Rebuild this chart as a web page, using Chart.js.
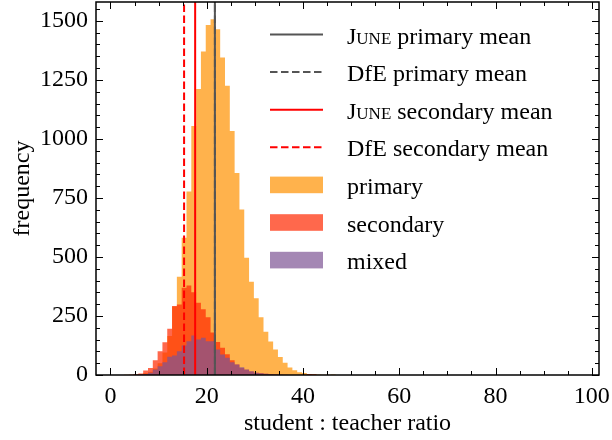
<!DOCTYPE html>
<html>
<head>
<meta charset="utf-8">
<script src="https://cdn.jsdelivr.net/npm/chart.js@4/dist/chart.umd.min.js"></script>
<style>
html,body{margin:0;padding:0;background:#ffffff;}
canvas{display:block;}
</style>
</head>
<body>
<canvas id="c" width="612" height="440"></canvas>
<script>
// ---- data ----
// left edges of the 1-unit bins, plus the final right edge
const binEdges = [2.8, 3.8, 4.8, 5.8, 6.8, 7.8, 8.8, 9.8, 10.8, 11.8, 12.8, 13.8, 14.8, 15.8, 16.8,
  17.8, 18.8, 19.8, 20.8, 21.8, 22.8, 23.8, 24.8, 25.8, 26.8, 27.8, 28.8, 29.8, 30.8, 31.8,
  32.8, 33.8, 34.8, 35.8, 36.8, 37.8, 38.8, 39.8, 40.8, 41.8, 42.8, 43.8, 44.8, 45.8, 46.8, 47.8];

const primaryCounts = [1, 1, 2, 4, 7, 14, 28, 50, 95, 165,
  290, 416, 581, 777, 1055, 1211, 1370, 1483, 1507, 1465,
  1345, 1225, 1034, 856, 701, 497, 395, 325, 245, 183,
  142, 108, 76, 52, 32, 20, 12, 8, 4, 3,
  2, 1, 1, 2, 0];

const secondaryCounts = [0, 1, 3, 6, 19, 30, 63, 101, 139, 196,
  292, 299, 370, 379, 351, 306, 278, 245, 180, 140,
  115, 88, 62, 45, 30, 22, 15, 10, 7, 5,
  3, 2, 1, 1, 0, 0, 0, 1, 4, 3,
  0, 0, 0, 0, 0];

const mixedCounts = [0, 0, 1, 2, 4, 10, 23, 37, 54, 77,
  83, 101, 125, 143, 167, 150, 158, 143, 143, 108,
  87, 73, 54, 44, 33, 23, 16, 10, 7, 5,
  3, 2, 1, 0, 0, 0, 0, 0, 0, 0,
  0, 0, 0, 0, 0];

const meanLabels = ['June primary mean', 'DfE primary mean', 'June secondary mean', 'DfE secondary mean'];
const meanValues = [21.7, 21.7, 17.6, 15.3];
const histLabels = ['primary', 'secondary', 'mixed'];

const xTicks = [0, 20, 40, 60, 80, 100];
const yTicks = [0, 250, 500, 750, 1000, 1250, 1500];
const xMinorStep = 5;
const yMinorStep = 50;

// ---- presentation ----
const X_MIN = -3, X_MAX = 101.5, Y_MIN = 0, Y_MAX = 1580;
const FONT = '"Liberation Serif", "Times New Roman", serif';

const histColors = ['rgba(255,145,0,0.7)', 'rgba(255,40,0,0.7)', 'rgba(126,84,148,0.7)'];
const meanColors = ['#555555', '#555555', '#ff0000', '#ff0000'];
const meanDash = [[], [7.5, 3.5], [], [7.5, 3.5]];

function histPoints(counts) {
  const pts = counts.map((c, i) => ({ x: binEdges[i], y: c }));
  pts.push({ x: binEdges[counts.length], y: 0 });
  return pts;
}

const histDatasets = [primaryCounts, secondaryCounts, mixedCounts].map((counts, i) => ({
  label: histLabels[i],
  data: histPoints(counts),
  stepped: 'before',
  fill: 'origin',
  backgroundColor: histColors[i],
  borderColor: 'rgba(0,0,0,0)',
  borderWidth: 0,
  pointRadius: 0,
  tension: 0,
  order: 6 - i
}));

const meanDatasets = meanValues.map((v, i) => ({
  label: meanLabels[i],
  data: [{ x: v, y: Y_MIN }, { x: v, y: Y_MAX }],
  borderColor: meanColors[i],
  backgroundColor: meanColors[i],
  borderDash: meanDash[i],
  borderWidth: 2,
  pointRadius: 0,
  fill: false,
  order: i
}));

const datasets = histDatasets.concat(meanDatasets);

const frameTicks = {
  id: 'frameTicks',
  afterDatasetsDraw(chart) {
    const { ctx, chartArea: a, scales } = chart;
    const x = scales.x, y = scales.y;
    ctx.save();
    ctx.strokeStyle = '#000';
    ctx.lineWidth = 1;
    ctx.beginPath();
    for (let v = xTicks[0]; v <= xTicks[xTicks.length - 1]; v += xMinorStep) {
      const px = Math.round(x.getPixelForValue(v)) + 0.5;
      const len = xTicks.includes(v) ? 7 : 4;
      ctx.moveTo(px, a.bottom); ctx.lineTo(px, a.bottom - len);
      ctx.moveTo(px, a.top); ctx.lineTo(px, a.top + len);
    }
    for (let v = yTicks[0]; v <= Y_MAX; v += yMinorStep) {
      const py = Math.round(y.getPixelForValue(v)) + 0.5;
      const len = yTicks.includes(v) ? 7 : 4;
      ctx.moveTo(a.left, py); ctx.lineTo(a.left + len, py);
      ctx.moveTo(a.right, py); ctx.lineTo(a.right - len, py);
    }
    ctx.stroke();
    ctx.lineWidth = 1.5;
    ctx.strokeRect(a.left, a.top, a.right - a.left, a.bottom - a.top);
    ctx.restore();
  }
};

const legendOrder = [3, 4, 5, 6, 0, 1, 2];
const customLegend = {
  id: 'customLegend',
  afterDraw(chart) {
    const ctx = chart.ctx;
    const ds = chart.data.datasets;
    ctx.save();
    const x0 = 270, x1 = 323, tx = 347, yStart = 34.5, dy = 37.6;
    legendOrder.forEach((di, row) => {
      const d = ds[di];
      const yc = yStart + row * dy;
      if (d.fill === 'origin') {
        ctx.fillStyle = d.backgroundColor;
        ctx.fillRect(x0, yc - 8.3, x1 - x0, 16.6);
      } else {
        ctx.strokeStyle = d.borderColor;
        ctx.lineWidth = 2;
        ctx.setLineDash(d.borderDash || []);
        ctx.beginPath();
        ctx.moveTo(x0, yc); ctx.lineTo(x1, yc);
        ctx.stroke();
        ctx.setLineDash([]);
      }
      ctx.fillStyle = '#000';
      ctx.textBaseline = 'alphabetic';
      ctx.textAlign = 'left';
      let label = d.label;
      let cx = tx;
      const base = yc + 9;
      if (label.startsWith('June')) {
        ctx.font = 'small-caps 24px ' + FONT;
        ctx.fillText('June', cx, base);
        cx += ctx.measureText('June').width;
        label = label.slice(4);
      }
      ctx.font = '24px ' + FONT;
      ctx.fillText(label, cx, base);
    });
    ctx.restore();
  }
};

new Chart(document.getElementById('c'), {
  type: 'line',
  data: { datasets },
  options: {
    responsive: false,
    animation: false,
    devicePixelRatio: 1,
    events: [],
    layout: { padding: { top: 2, right: 13, left: 0, bottom: 0 } },
    plugins: { legend: { display: false }, tooltip: { enabled: false } },
    scales: {
      x: {
        type: 'linear', min: X_MIN, max: X_MAX,
        grid: { display: false, drawTicks: false },
        border: { display: false },
        afterBuildTicks: s => { s.ticks = xTicks.map(v => ({ value: v })); },
        afterFit: s => { s.height = 65; s.paddingLeft = 0; s.paddingRight = 0; },
        ticks: { font: { family: FONT, size: 24 }, color: '#000', padding: 7, maxRotation: 0, autoSkip: false,
                 callback: v => String(v) },
        title: { display: true, text: 'student : teacher ratio', color: '#000',
                 font: { family: FONT, size: 24 }, padding: { top: 0, bottom: 2 } }
      },
      y: {
        type: 'linear', min: Y_MIN, max: Y_MAX,
        grid: { display: false, drawTicks: false },
        border: { display: false },
        afterBuildTicks: s => { s.ticks = yTicks.map(v => ({ value: v })); },
        afterFit: s => { s.width = 96; s.paddingTop = 0; s.paddingBottom = 0; },
        ticks: { font: { family: FONT, size: 24 }, color: '#000', padding: 8, autoSkip: false,
                 callback: v => String(v) },
        title: { display: true, text: 'frequency', color: '#000',
                 font: { family: FONT, size: 24 }, padding: { top: 8, bottom: 0 } }
      }
    }
  },
  plugins: [frameTicks, customLegend]
});
</script>
</body>
</html>
